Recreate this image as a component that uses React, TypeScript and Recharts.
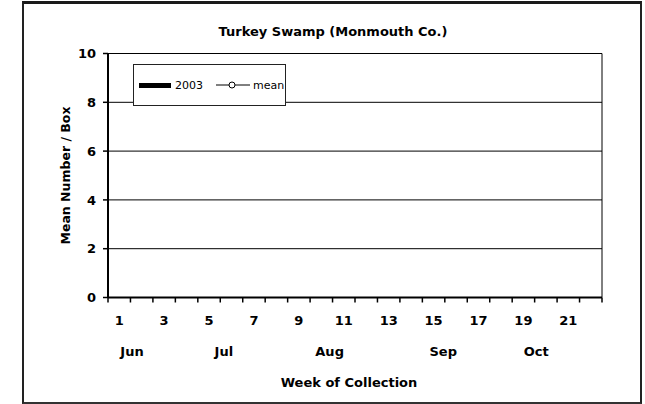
import React from "react";
import { ComposedChart, Bar, Line, XAxis, YAxis, CartesianGrid, Legend } from "recharts";

// weeks of collection (no counts were recorded at this site)
const weeks = [1, 2, 3, 4, 5, 6, 7, 8, 9, 10, 11, 12, 13, 14, 15, 16, 17, 18, 19, 20, 21, 22];
const weekLabels = ["1", "", "3", "", "5", "", "7", "", "9", "", "11", "", "13", "", "15", "", "17", "", "19", "", "21", ""];
const counts2003 = [null, null, null, null, null, null, null, null, null, null, null, null, null, null, null, null, null, null, null, null, null, null];
const meanCounts = [null, null, null, null, null, null, null, null, null, null, null, null, null, null, null, null, null, null, null, null, null, null];

// tick marks sit between weeks
const weekBounds = [0.5, 1.5, 2.5, 3.5, 4.5, 5.5, 6.5, 7.5, 8.5, 9.5, 10.5, 11.5, 12.5, 13.5, 14.5, 15.5, 16.5, 17.5, 18.5, 19.5, 20.5, 21.5, 22.5];
const yTicks = [0, 2, 4, 6, 8, 10];
const months = ["Jun", "Jul", "Aug", "Sep", "Oct"];
const monthPos = [1.57, 5.66, 10.37, 15.43, 19.57];

const FONT = "'DejaVu Sans', sans-serif";

const data = weeks.map((w, i) => ({ week: w, y2003: counts2003[i], mean: meanCounts[i] }));

function WeekTick(props: any) {
  const { x, y, payload } = props;
  const label = weekLabels[weeks.indexOf(payload.value)];
  return (
    <text x={x} y={y + 19} dy="0.35em" textAnchor="middle" fontFamily={FONT} fontWeight="bold" fontSize={13} fill="#000">
      {label}
    </text>
  );
}

function MonthTick(props: any) {
  const { x, y, payload } = props;
  const label = months[monthPos.indexOf(payload.value)];
  return (
    <text x={x} y={y + 14} dy="0.35em" textAnchor="middle" fontFamily={FONT} fontWeight="bold" fontSize={13} fill="#000">
      {label}
    </text>
  );
}

function LegendBox(props: any) {
  const { payload = [] } = props;
  return (
    <div
      style={{
        boxSizing: "border-box", width: 153, height: 42, border: "1.5px solid #222", background: "#fff",
        display: "flex", alignItems: "center", paddingLeft: 5, fontFamily: FONT, fontSize: 11, color: "#000",
      }}
    >
      {payload.map((entry: any) =>
        entry.dataKey === "y2003" ? (
          <div key="a" style={{ display: "flex", alignItems: "center" }}>
            <div style={{ width: 32, height: 5, background: "#000", marginRight: 4 }} />
            <span>{entry.value}</span>
          </div>
        ) : (
          <div key="b" style={{ display: "flex", alignItems: "center", marginLeft: 13 }}>
            <svg width={34} height={8} style={{ marginRight: 3 }}>
              <line x1={0} y1={4} x2={34} y2={4} stroke="#000" strokeWidth={1} />
              <circle cx={16} cy={4} r={3} fill="#fff" stroke="#000" strokeWidth={1} />
            </svg>
            <span>{entry.value}</span>
          </div>
        )
      )}
    </div>
  );
}

export default function App() {
  return (
    <div style={{ position: "absolute", left: 0, top: 0, width: 645, height: 404, background: "#fff" }}>
      <div
        style={{
          position: "absolute", left: 22, top: 1, width: 620, height: 403, boxSizing: "border-box",
          borderTop: "3px solid #1a1a1a", borderLeft: "2px solid #222", borderRight: "2px solid #222", borderBottom: "2px solid #333",
        }}
      />
      <div
        style={{
          position: "absolute", left: 0, top: 24, width: 666, textAlign: "center",
          fontFamily: FONT, fontWeight: "bold", fontSize: 13, lineHeight: "16px", color: "#000",
        }}
      >
        Turkey Swamp (Monmouth Co.)
      </div>
      <ComposedChart width={645} height={404} data={data} margin={{ top: 53.5, right: 43, bottom: 0, left: 0 }}>
        <CartesianGrid
          xAxisId="b"
          yAxisId="y"
          horizontalPoints={undefined}
          stroke="#000"
          strokeWidth={1}
          verticalCoordinatesGenerator={({ offset }: any) => [offset.left + offset.width]}
        />
        <XAxis
          xAxisId="a"
          dataKey="week"
          type="number"
          domain={[0.5, 22.5]}
          allowDataOverflow
          ticks={weekBounds}
          interval={0}
          height={4}
          tick={() => <g />}
          tickSize={5}
          tickLine={{ stroke: "#000", strokeWidth: 1.5 }}
          axisLine={{ stroke: "#000", strokeWidth: 2 }}
        />
        <XAxis
          xAxisId="b"
          dataKey="week"
          interval={0}
          height={36}
          tick={<WeekTick />}
          tickSize={0}
          tickMargin={0}
          tickLine={false}
          axisLine={false}
        />
        <XAxis
          xAxisId="c"
          dataKey="week"
          type="number"
          domain={[0.5, 22.5]}
          allowDataOverflow
          ticks={monthPos}
          interval={0}
          height={66.5}
          tick={<MonthTick />}
          tickSize={0}
          tickMargin={0}
          tickLine={false}
          axisLine={false}
          label={(p: any) => (
            <text
              x={p.viewBox.x + p.viewBox.width / 2 - 6}
              y={p.viewBox.y + 45}
              dy="0.35em"
              textAnchor="middle"
              fontFamily={FONT}
              fontWeight="bold"
              fontSize={13}
              fill="#000"
            >
              Week of Collection
            </text>
          )}
        />
        <YAxis
          yAxisId="y"
          type="number"
          domain={[0, 10]}
          allowDataOverflow
          ticks={yTicks}
          interval={0}
          width={108}
          tickSize={5}
          tickMargin={7}
          tick={{ fill: "#000", fontSize: 13, fontWeight: "bold", fontFamily: FONT }}
          tickLine={{ stroke: "#000", strokeWidth: 1.5 }}
          axisLine={{ stroke: "#000", strokeWidth: 2 }}
          label={(p: any) => (
            <text
              x={66}
              y={p.viewBox.y + p.viewBox.height / 2}
              dy="0.35em"
              textAnchor="middle"
              fontFamily={FONT}
              fontWeight="bold"
              fontSize={12.5}
              fill="#000"
              transform={`rotate(-90, 66, ${p.viewBox.y + p.viewBox.height / 2})`}
            >
              Mean Number / Box
            </text>
          )}
        />
        <Legend
          layout="horizontal"
          verticalAlign="middle"
          align="center"
          content={<LegendBox />}
          wrapperStyle={{ left: 133, top: 64, width: 153, height: 42 }}
        />
        <Bar xAxisId="b" yAxisId="y" dataKey="y2003" name="2003" fill="#000" isAnimationActive={false} />
        <Line
          xAxisId="b"
          yAxisId="y"
          dataKey="mean"
          name="mean"
          stroke="#000"
          strokeWidth={1}
          dot={{ r: 3, fill: "#fff", stroke: "#000", strokeWidth: 1 }}
          isAnimationActive={false}
        />
      </ComposedChart>
    </div>
  );
}
